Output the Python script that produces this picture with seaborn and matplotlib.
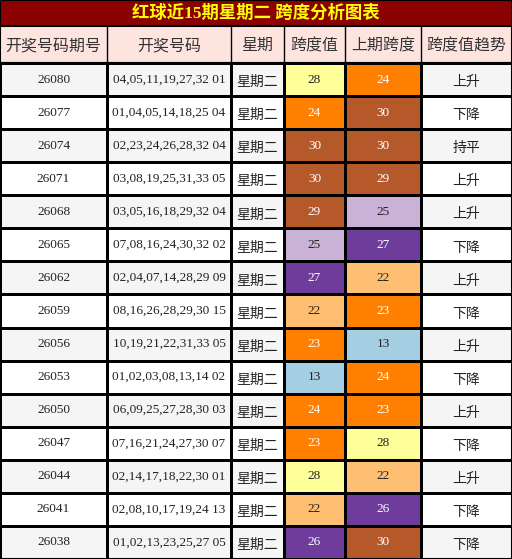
import numpy as np
import matplotlib
matplotlib.use("Agg")
import matplotlib.pyplot as plt
from matplotlib.colors import ListedColormap
import seaborn as sns

sns.set_theme(style="white")
plt.rcParams['font.family'] = ['Liberation Serif', 'Noto Sans CJK SC']

title = "红球近15期星期二 跨度分析图表"
headers = ["开奖号码期号", "开奖号码", "星期", "跨度值", "上期跨度", "跨度值趋势"]
periods = ["26080","26077","26074","26071","26068","26065","26062","26059","26056","26053","26050","26047","26044","26041","26038"]
numbers = ["04,05,11,19,27,32 01","01,04,05,14,18,25 04","02,23,24,26,28,32 04","03,08,19,25,31,33 05",
           "03,05,16,18,29,32 04","07,08,16,24,30,32 02","02,04,07,14,28,29 09","08,16,26,28,29,30 15",
           "10,19,21,22,31,33 05","01,02,03,08,13,14 02","06,09,25,27,28,30 03","07,16,21,24,27,30 07",
           "02,14,17,18,22,30 01","02,08,10,17,19,24 13","01,02,13,23,25,27 05"]
weekday = ["星期二"] * 15
span = [28,24,30,30,29,25,27,22,23,13,24,23,28,22,26]
prev_span = [24,30,30,29,25,27,22,23,13,24,23,28,22,26,30]
trend = ["上升","下降","持平","上升","上升","下降","上升","下降","上升","下降","上升","下降","上升","下降","下降"]

span_colors = {30:"#b5582a",29:"#b5582a",28:"#ffff99",27:"#6e3d9c",26:"#6e3d9c",25:"#c9b2d6",
               24:"#ff8000",23:"#ff8000",22:"#ffbf72",13:"#a6cee3"}
dark = {30,29,27,26,24,23}

palette = ["#f5f5f5", "#ffffff"] + list(dict.fromkeys(span_colors.values()))
idx = {c: i for i, c in enumerate(palette)}
n = len(periods)
codes = np.zeros((n, 6))
for r in range(n):
    base = 0 if r % 2 == 0 else 1
    codes[r, :] = base
    codes[r, 3] = idx[span_colors[span[r]]]
    codes[r, 4] = idx[span_colors[prev_span[r]]]

W, H = 512, 559
fig = plt.figure(figsize=(W/100, H/100), dpi=100)
top_title, top_head = 26, 63
xe = np.array([0,107,231,284,345,421,512])

# title
axt = fig.add_axes([0, 1-top_title/H, 1, top_title/H])
axt.set_facecolor("#8b0000"); axt.set_xticks([]); axt.set_yticks([])
axt.text(0.5, 0.5, title, color="#ffff00", fontsize=12.5, fontweight="bold", ha="center", va="center",
         family=['Liberation Serif','Noto Sans CJK SC'])
# header
axh = fig.add_axes([0, 1-top_head/H, 1, (top_head-top_title)/H])
axh.set_facecolor("#fde4df"); axh.set_xlim(0, W); axh.set_ylim(0, 1)
axh.set_xticks([]); axh.set_yticks([])
for x in xe[1:-1]:
    axh.axvline(x, color="black", lw=1)
for j, h in enumerate(headers):
    axh.text((xe[j]+xe[j+1])/2, 0.47, h, ha="center", va="center", fontsize=11.5, color="#333333",
             family=['Noto Sans CJK SC'])
# body
ax = fig.add_axes([0, 0, 1, (H-top_head)/H])
ye = np.arange(n+1)
ax.pcolormesh(xe, ye, codes, cmap=ListedColormap(palette), vmin=-0.5, vmax=len(palette)-0.5,
              edgecolors="black", linewidth=1)
ax.set_xlim(0, W); ax.set_ylim(n, 0)
ax.set_xticks([]); ax.set_yticks([])
for r in range(n):
    y = r + 0.5
    cx = (xe[:-1]+xe[1:])/2
    ax.text(cx[0], y, periods[r], ha="center", va="center", fontsize=9.5, color="#222222")
    ax.text(cx[1], y, numbers[r], ha="center", va="center", fontsize=9.5, color="#222222")
    ax.text(cx[2], y+0.08, weekday[r], ha="center", va="center", fontsize=10, color="#222222", family=['Noto Sans CJK SC'])
    ax.text(cx[3], y, str(span[r]), ha="center", va="center", fontsize=9.5,
            color="white" if span[r] in dark else "#222222")
    ax.text(cx[4], y, str(prev_span[r]), ha="center", va="center", fontsize=9.5,
            color="white" if prev_span[r] in dark else "#222222")
    ax.text(cx[5], y+0.08, trend[r], ha="center", va="center", fontsize=10, color="#222222", family=['Noto Sans CJK SC'])
for a in (axt, axh, ax):
    for s in a.spines.values():
        s.set_color("black"); s.set_linewidth(1.5)
fig.savefig("out.png", dpi=100)
